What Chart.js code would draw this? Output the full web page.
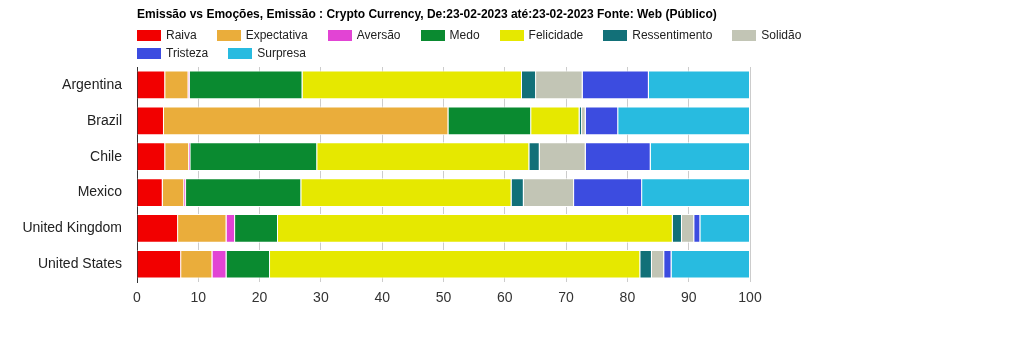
<!DOCTYPE html>
<html>
<head>
<meta charset="utf-8">
<script src="https://cdn.jsdelivr.net/npm/chart.js@4"></script>
<style>
    body { margin: 0; background: #fff; font-family: "Liberation Sans", Arial, sans-serif; }
    .wrap { position: relative; width: 1009px; height: 350px; }
    .head { position: absolute; left: 137px; top: 7px; width: 720px; }
    .title { font-size: 12px; font-weight: bold; color: #000; line-height: 14px; white-space: nowrap; }
    #legend { list-style: none; margin: 0; padding: 0; margin-top: 5px; display: flex; flex-wrap: wrap; }
    #legend li { display: flex; align-items: center; height: 18px; margin-right: 20px; font-size: 12px; color: #222; }
    #legend li span { display: inline-block; width: 24px; height: 11px; margin-right: 5px; }
</style>
</head>
<body>
<div class="wrap">
    <div class="head">
        <div class="title">Emissão vs Emoções, Emissão : Crypto Currency, De:23-02-2023 até:23-02-2023 Fonte: Web (Público)</div>
        <ul id="legend"></ul>
    </div>
    <canvas id="chart" width="1009" height="350"></canvas>
</div>
<script>
const countries = ['Argentina', 'Brazil', 'Chile', 'Mexico', 'United Kingdom', 'United States'];
const emotions = ['Raiva', 'Expectativa', 'Aversão', 'Medo', 'Felicidade', 'Ressentimento', 'Solidão', 'Tristeza', 'Surpresa'];
const colors = ['#f20000', '#eaad3b', '#e244d4', '#0a8a30', '#e6e800', '#127078', '#c2c5b5', '#3c4ce0', '#28bbe0'];

// percentage per country, same order as countries
const raiva = [4.6, 4.4, 4.6, 4.2, 6.7, 7.2];
const expectativa = [3.8, 46.4, 3.9, 3.5, 7.9, 5.1];
const aversao = [0.2, 0, 0.2, 0.3, 1.4, 2.3];
const medo = [18.4, 13.5, 20.7, 18.8, 7.0, 7.1];
const felicidade = [35.8, 7.9, 34.6, 34.3, 64.4, 60.4];
const ressentimento = [2.3, 0.4, 1.7, 2.0, 1.5, 1.9];
const solidao = [7.6, 0.6, 7.5, 8.2, 2.0, 2.0];
const tristeza = [10.8, 5.3, 10.6, 11.1, 1.0, 1.2];
const surpresa = [16.5, 21.5, 16.2, 17.6, 8.1, 12.8];

const xTicks = [0, 10, 20, 30, 40, 50, 60, 70, 80, 90, 100];

const series = [raiva, expectativa, aversao, medo, felicidade, ressentimento, solidao, tristeza, surpresa];

// legend is plain html above the canvas
const htmlLegend = {
    id: 'htmlLegend',
    afterUpdate(chart) {
        const ul = document.getElementById('legend');
        ul.innerHTML = '';
        chart.data.datasets.forEach(ds => {
            const li = document.createElement('li');
            const box = document.createElement('span');
            box.style.background = ds.backgroundColor;
            li.appendChild(box);
            li.appendChild(document.createTextNode(ds.label));
            ul.appendChild(li);
        });
    }
};

const font = "'Liberation Sans', Arial, sans-serif";

new Chart(document.getElementById('chart'), {
    type: 'bar',
    data: {
        labels: countries,
        datasets: series.map((vals, i) => ({
            label: emotions[i],
            data: vals,
            backgroundColor: colors[i],
            borderColor: '#fff',
            borderWidth: 1,
            categoryPercentage: 1,
            barPercentage: 0.8
        }))
    },
    options: {
        indexAxis: 'y',
        responsive: false,
        animation: false,
        layout: {padding: {top: 67, right: 259, bottom: 35, left: 0}},
        scales: {
            x: {
                stacked: true,
                min: 0,
                max: 100,
                afterBuildTicks: s => { s.ticks = xTicks.map(v => ({value: v})); },
                grid: {color: '#cccccc', drawTicks: false},
                border: {display: false},
                ticks: {color: '#333', padding: 8, font: {family: font, size: 14}}
            },
            y: {
                stacked: true,
                afterFit: s => { s.width = 137; },
                grid: {display: false, drawTicks: false},
                border: {display: true, color: '#333', width: 1},
                ticks: {color: '#222', padding: 15, font: {family: font, size: 14}}
            }
        },
        plugins: {
            legend: {display: false},
            tooltip: {enabled: false}
        }
    },
    plugins: [htmlLegend]
});
</script>
</body>
</html>
